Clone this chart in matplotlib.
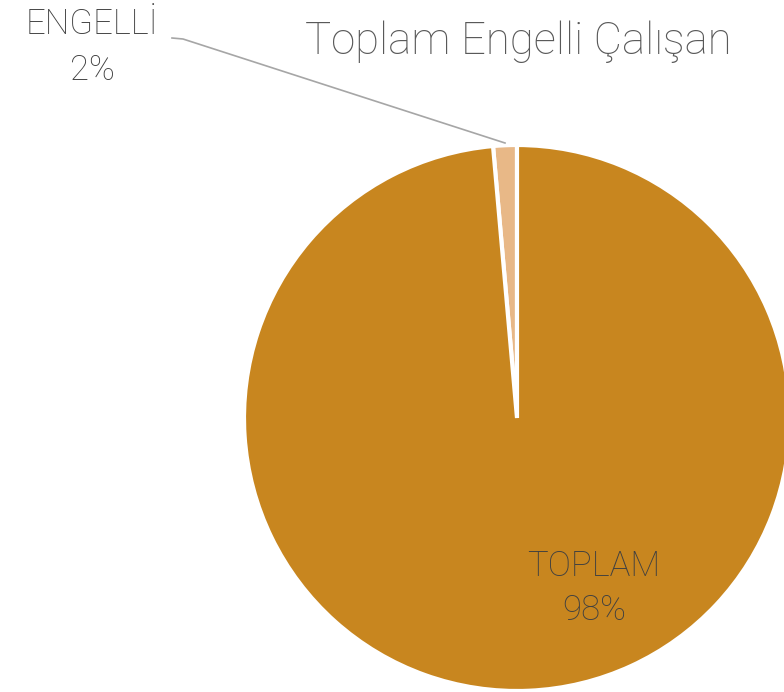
import numpy as np
import matplotlib.pyplot as plt

# veri
kategoriler = ['ENGELLİ', 'TOPLAM']
degerler = [1.4, 98.6]
yuzde_etiket = ['2%', '98%']
renkler = ['#E8B887', '#C8861F']

W, H = 784, 692
fig = plt.figure(figsize=(W / 100, H / 100), dpi=100)
plt.rcParams['font.family'] = ['Roboto', 'DejaVu Sans']

# pasta: merkez (517, 418) px, yaricap 273 px
cx, cy, r = 517, 418, 273
ax = fig.add_axes([(cx - r) / W, (H - cy - r) / H, 2 * r / W, 2 * r / H])
ax.pie(degerler, colors=renkler, startangle=90, counterclock=True, radius=1,
       wedgeprops=dict(edgecolor='white', linewidth=3))
ax.set_xlim(-1, 1)
ax.set_ylim(-1, 1)
ax.set_aspect('equal')
ax.axis('off')

def px(x, y):
    return x / W, 1 - y / H

fig.text(*px(518, 42), 'Toplam Engelli Çalışan', ha='center', va='center',
         fontsize=31.5, color='#595959', fontweight='light')

fig.text(*px(594, 566), kategoriler[1], ha='center', va='center',
         fontsize=25, color='#404040', fontweight='light')
fig.text(*px(594, 610), yuzde_etiket[1], ha='center', va='center',
         fontsize=25, color='#404040', fontweight='light')

fig.text(*px(92, 24), kategoriler[0], ha='center', va='center',
         fontsize=25, color='#404040', fontweight='light')
fig.text(*px(92, 70), yuzde_etiket[0], ha='center', va='center',
         fontsize=25, color='#404040', fontweight='light')

# leader line
xs = [172, 183, 505]
ys = [38, 39, 143]
fig.add_artist(plt.Line2D([x / W for x in xs], [1 - y / H for y in ys],
                          color='#A6A6A6', linewidth=1.2))

fig.savefig('out.png', dpi=100)
